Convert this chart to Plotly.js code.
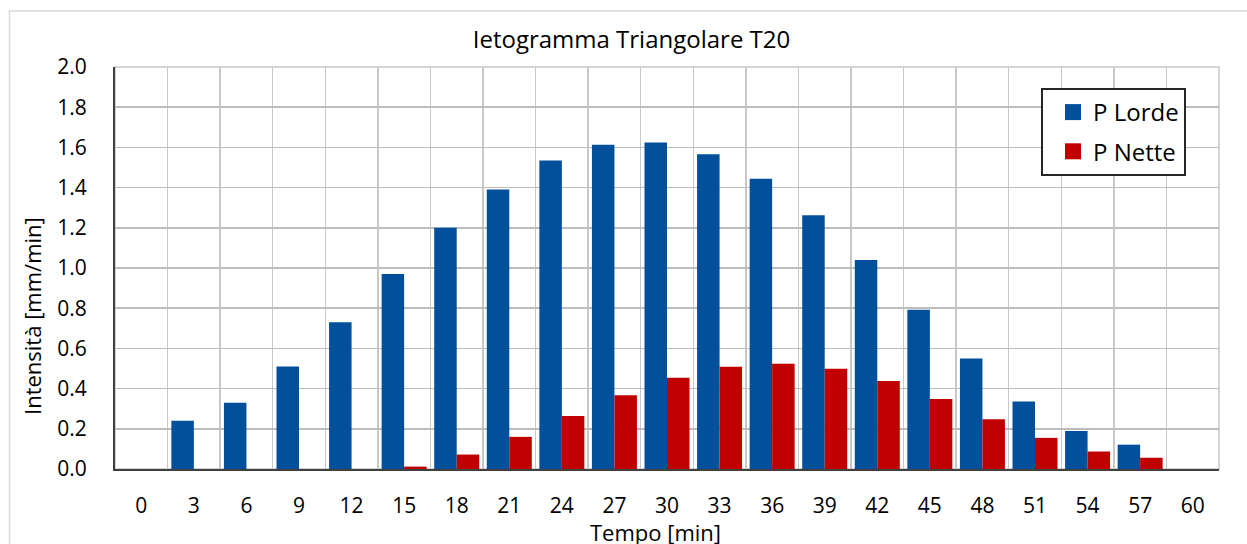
<!DOCTYPE html>
<html>
<head>
<meta charset="utf-8">
<script src="https://cdn.plot.ly/plotly-3.0.1.min.js"></script>
<style>html,body{margin:0;padding:0;background:#fff;}#chart{width:1247px;height:544px;}</style>
</head>
<body>
<div id="chart"></div>
<script>
const tempo = ['0','3','6','9','12','15','18','21','24','27','30','33','36','39','42','45','48','51','54','57','60'];
const pLorde = [0, 0.24, 0.33, 0.51, 0.73, 0.97, 1.20, 1.39, 1.535, 1.613, 1.625, 1.566, 1.444, 1.262, 1.04, 0.792, 0.55, 0.336, 0.189, 0.121, 0];
const pNette = [0, 0, 0, 0, 0, 0.012, 0.072, 0.16, 0.264, 0.367, 0.454, 0.509, 0.524, 0.499, 0.438, 0.348, 0.248, 0.155, 0.087, 0.056, 0];
const yTicks = [0, 0.2, 0.4, 0.6, 0.8, 1.0, 1.2, 1.4, 1.6, 1.8, 2.0];

const blue = '#024F9C';
const red = '#C00000';
const FONT = 'Open Sans, Noto Sans, sans-serif';

const traces = [
  {type:'bar', x: tempo, y: pLorde, name:'P Lorde', marker:{color: blue, line:{width:0}}, showlegend:false},
  {type:'bar', x: tempo, y: pNette, name:'P Nette', marker:{color: red, line:{width:0}}, showlegend:false},
  {type:'scatter', mode:'markers', x:[null], y:[null], name:'P Lorde', legendgroup:'a', marker:{symbol:'square', size:17, color: blue}},
  {type:'scatter', mode:'markers', x:[null], y:[null], name:'P Nette', legendgroup:'b', marker:{symbol:'square', size:17, color: red}}
];

const L = 115, R = 1219, T = 67, B = 469;
const W = R - L, H = B - T;
const px = v => (v - L) / W;
const py = v => (B - v) / H;

const layout = {
  width: 1247, height: 544,
  margin: {l: L, r: 1247 - R, t: T, b: 544 - B, pad: 0},
  paper_bgcolor: '#ffffff', plot_bgcolor: '#ffffff',
  font: {family: FONT, color: '#000000', size: 21},
  barmode: 'group', bargap: 0.144, bargroupgap: 0,
  title: {text: 'Ietogramma Triangolare T20', font: {family: FONT, size: 24, color: '#000'},
          xref: 'container', yref: 'container', x: 631.5/1247, xanchor: 'center', y: 1 - 40/544, yanchor: 'middle'},
  xaxis: {type: 'category', tickson: 'boundaries', showgrid: true, gridcolor: '#c8c8c8', gridwidth: 1.5,
          showline: true, linecolor: '#404040', linewidth: 2, ticks: '', ticklabelstandoff: 17,
          tickfont: {family: FONT, size: 21, color: '#000'}, range: [-0.5, 20.5], fixedrange: true},
  yaxis: {range: [0, 2.0], tickvals: yTicks, ticktext: yTicks.map(v => v.toFixed(1)), showgrid: true, gridcolor: '#bdbdbd', gridwidth: 1.5,
          showline: true, linecolor: '#404040', linewidth: 2, ticks: '', ticklabelstandoff: 22, zeroline: false,
          tickfont: {family: FONT, size: 21, color: '#000'}, fixedrange: true},
  legend: {x: px(1041), y: py(88), xanchor: 'left', yanchor: 'top', bgcolor: '#ffffff', bordercolor: '#262626', borderwidth: 2,
           font: {family: FONT, size: 24, color: '#000'}, traceorder: 'grouped', tracegroupgap: 5, indentation: 10,
           entrywidth: 130, entrywidthmode: 'pixels'},
  shapes: [
    {type: 'rect', xref: 'paper', yref: 'paper', x0: 0, x1: 1, y0: 0, y1: 1, line: {color: '#c8c8c8', width: 1.5}, layer: 'below'},
    {type: 'rect', xref: 'paper', yref: 'paper', x0: px(9.5), x1: px(1260), y0: py(560), y1: py(11), line: {color: '#d9d9d9', width: 1.5}, layer: 'below'}
  ],
  annotations: [
    {text: 'Tempo [min]', xref: 'paper', yref: 'paper', x: px(655), y: py(532), xanchor: 'center', yanchor: 'middle', showarrow: false,
     font: {family: FONT, size: 22, color: '#000'}},
    {text: 'Intensità [mm/min]', xref: 'paper', yref: 'paper', x: px(32), y: py(316), xanchor: 'center', yanchor: 'middle', showarrow: false, textangle: -90,
     font: {family: FONT, size: 22, color: '#000'}}
  ]
};

Plotly.newPlot('chart', traces, layout, {displayModeBar: false, staticPlot: true});
</script>
</body>
</html>
